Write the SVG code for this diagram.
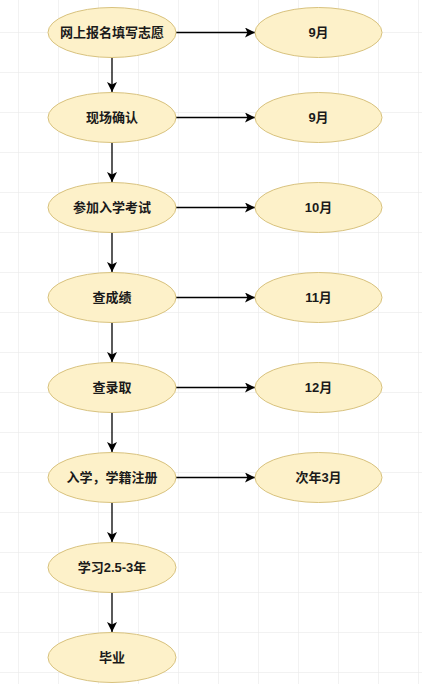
<svg xmlns="http://www.w3.org/2000/svg" width="422" height="684" viewBox="0 0 422 684">
<defs>
<pattern id="grid" x="18" y="32" width="40" height="40" patternUnits="userSpaceOnUse">
<path d="M0 0H40M0 0V40" fill="none" stroke="#e6e6e6" stroke-width="1"/>
</pattern>
<marker id="arr" viewBox="0 0 10 10" refX="10" refY="5" markerWidth="10" markerHeight="10" markerUnits="userSpaceOnUse" orient="auto">
<path d="M0 0L10 5L0 10L2.5 5Z" fill="#000"/>
</marker>
</defs>
<style>
.n{fill:#fdf1c9;stroke:#d8c27e;stroke-width:1}
.t{font-family:"Liberation Sans","Noto Sans CJK SC",sans-serif;font-size:13px;font-weight:bold;fill:#1a1a1a;text-anchor:middle;dominant-baseline:central}
.e{stroke:#000;stroke-width:1.3;fill:none;marker-end:url(#arr)}
</style>
<rect width="422" height="684" fill="#fff"/>
<rect width="422" height="684" fill="url(#grid)"/>
<g id="connectors">
<path class="e" d="M176 32.5H255"/>
<path class="e" d="M176 117.5H255"/>
<path class="e" d="M176 207.5H255"/>
<path class="e" d="M176 297.5H255"/>
<path class="e" d="M176 387.5H255"/>
<path class="e" d="M176 477.5H255"/>
<path class="e" d="M112 57.5V92"/>
<path class="e" d="M112 142.5V182"/>
<path class="e" d="M112 232.5V272"/>
<path class="e" d="M112 322.5V362"/>
<path class="e" d="M112 412.5V452"/>
<path class="e" d="M112 502.5V542"/>
<path class="e" d="M112 592.5V632"/>
</g>
<g id="n1"><ellipse class="n" cx="112" cy="32.5" rx="64" ry="25"/><text class="t" x="112" y="32.5">网上报名填写志愿</text></g>
<g id="n2"><ellipse class="n" cx="112" cy="117.5" rx="64" ry="25"/><text class="t" x="112" y="117.5">现场确认</text></g>
<g id="n3"><ellipse class="n" cx="112" cy="207.5" rx="64" ry="25"/><text class="t" x="112" y="207.5">参加入学考试</text></g>
<g id="n4"><ellipse class="n" cx="112" cy="297.5" rx="64" ry="25"/><text class="t" x="112" y="297.5">查成绩</text></g>
<g id="n5"><ellipse class="n" cx="112" cy="387.5" rx="64" ry="25"/><text class="t" x="112" y="387.5">查录取</text></g>
<g id="n6"><ellipse class="n" cx="112" cy="477.5" rx="64" ry="25"/><text class="t" x="112" y="477.5">入学，学籍注册</text></g>
<g id="n7"><ellipse class="n" cx="112" cy="567.5" rx="64" ry="25"/><text class="t" x="112" y="567.5">学习2.5-3年</text></g>
<g id="n8"><ellipse class="n" cx="112" cy="657.5" rx="64" ry="25"/><text class="t" x="112" y="657.5">毕业</text></g>
<g id="m1"><ellipse class="n" cx="318.5" cy="32.5" rx="63.5" ry="25"/><text class="t" x="318.5" y="32.5">9月</text></g>
<g id="m2"><ellipse class="n" cx="318.5" cy="117.5" rx="63.5" ry="25"/><text class="t" x="318.5" y="117.5">9月</text></g>
<g id="m3"><ellipse class="n" cx="318.5" cy="207.5" rx="63.5" ry="25"/><text class="t" x="318.5" y="207.5">10月</text></g>
<g id="m4"><ellipse class="n" cx="318.5" cy="297.5" rx="63.5" ry="25"/><text class="t" x="318.5" y="297.5">11月</text></g>
<g id="m5"><ellipse class="n" cx="318.5" cy="387.5" rx="63.5" ry="25"/><text class="t" x="318.5" y="387.5">12月</text></g>
<g id="m6"><ellipse class="n" cx="318.5" cy="477.5" rx="63.5" ry="25"/><text class="t" x="318.5" y="477.5">次年3月</text></g>
</svg>
